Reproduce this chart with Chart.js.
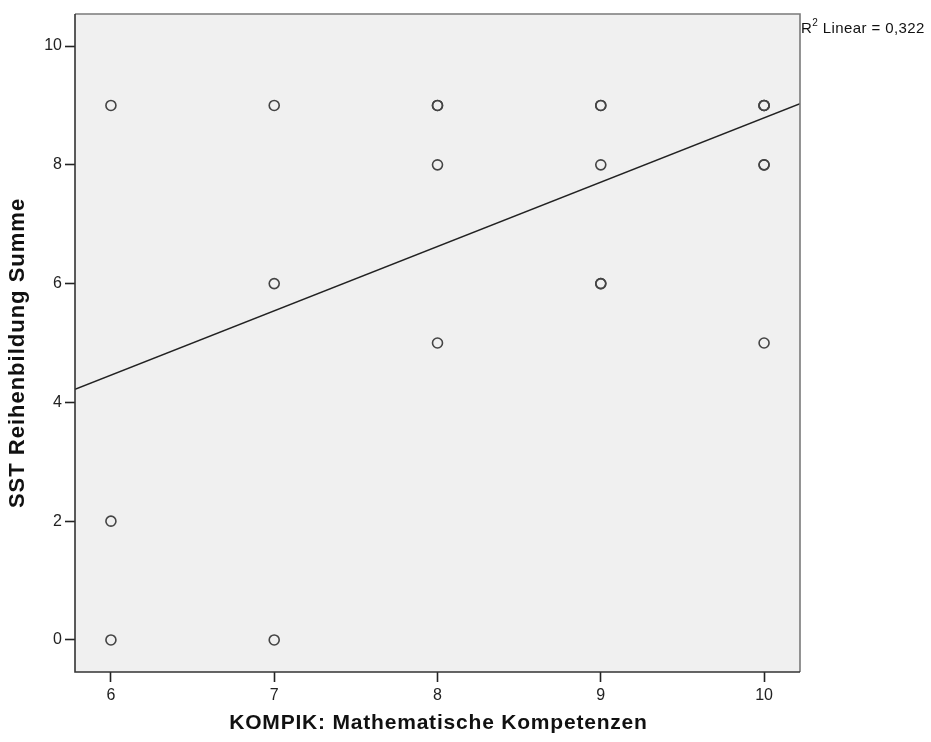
<!DOCTYPE html>
<html>
<head>
<meta charset="utf-8">
<script src="https://cdn.jsdelivr.net/npm/chart.js@4"></script>
<style>
    html, body { margin: 0; padding: 0; background: #fff; }
    #wrap { width: 931px; height: 742px; }
</style>
</head>
<body>
<div id="wrap"><canvas id="scatter" width="931" height="742"></canvas></div>
<script>
/* ================= DATA ================= */
// repeated cases are kept twice, SPSS draws them as darker rings
const xVals = [6, 6, 6, 7, 7, 7, 8, 8, 8, 8, 9, 9, 9, 9, 9, 10, 10, 10, 10, 10, 10];
const yVals = [9, 2, 0, 9, 6, 0, 9, 9, 8, 5, 9, 9, 8, 6, 6, 9, 9, 9, 8, 8, 5];

const xTicks = [6, 7, 8, 9, 10];
const yTicks = [0, 2, 4, 6, 8, 10];

// fit line read at both ends of the x range
const fitX = [5.78, 10.22];
const fitY = [4.22, 9.03];
const r2Text = "Linear = 0,322";

const xTitle = "KOMPIK: Mathematische Kompetenzen";
const yTitle = "SST Reihenbildung Summe";

const FONT = "'Liberation Sans', Arial, sans-serif";

/* ================= PLUGINS ================= */
const frame = {
    id: "frame",
    beforeDraw(chart) {
        const { ctx, chartArea: a } = chart;
        ctx.save();
        ctx.fillStyle = "#f0f0f0";
        ctx.fillRect(a.left, a.top, a.right - a.left, a.bottom - a.top);
        ctx.restore();
    },
    afterDraw(chart) {
        const { ctx, chartArea: a } = chart;
        ctx.save();
        ctx.lineWidth = 1.6;
        ctx.strokeStyle = "#7a7a7a";
        ctx.beginPath();
        ctx.moveTo(a.left, a.top);
        ctx.lineTo(a.right, a.top);
        ctx.lineTo(a.right, a.bottom);
        ctx.stroke();
        ctx.strokeStyle = "#333";
        ctx.beginPath();
        ctx.moveTo(a.left, a.top);
        ctx.lineTo(a.left, a.bottom);
        ctx.lineTo(a.right, a.bottom);
        ctx.stroke();

        // axis titles
        ctx.fillStyle = "#111";
        ctx.textAlign = "center";
        ctx.textBaseline = "middle";
        ctx.font = "bold 21px " + FONT;
        ctx.letterSpacing = "0.8px";
        ctx.fillText(xTitle, (a.left + a.right) / 2 + 1, 723);
        ctx.save();
        ctx.translate(18, 353);
        ctx.rotate(-Math.PI / 2);
        ctx.font = "bold 22px " + FONT;
        ctx.letterSpacing = "1px";
        ctx.fillText(yTitle, 0, 0);
        ctx.restore();

        // R² label outside the top right corner
        ctx.letterSpacing = "0.4px";
        ctx.textAlign = "left";
        ctx.textBaseline = "alphabetic";
        ctx.font = "15px " + FONT;
        const x0 = a.right + 1, base = 33;
        ctx.fillText("R", x0, base);
        const wR = ctx.measureText("R").width;
        ctx.font = "10px " + FONT;
        ctx.fillText("2", x0 + wR, base - 7);
        const w2 = ctx.measureText("2").width;
        ctx.font = "15px " + FONT;
        ctx.fillText(" " + r2Text, x0 + wR + w2, base);
        ctx.restore();
    }
};

/* ================= CHART ================= */
const tickFont = { family: FONT, size: 16 };

new Chart(document.getElementById("scatter"), {
    type: "scatter",
    data: {
        datasets: [
            {
                label: "cases",
                data: xVals.map((x, i) => ({ x: x, y: yVals[i] })),
                pointRadius: 5,
                pointBorderWidth: 1.6,
                borderColor: "#444",
                backgroundColor: "rgba(0,0,0,0)",
                order: 2
            },
            {
                label: "fit",
                type: "line",
                data: fitX.map((x, i) => ({ x: x, y: fitY[i] })),
                borderColor: "#222",
                borderWidth: 1.4,
                pointRadius: 0,
                fill: false,
                order: 1
            }
        ]
    },
    options: {
        responsive: false,
        animation: false,
        layout: { padding: { left: 0, right: 131, top: 14, bottom: 0 } },
        plugins: {
            legend: { display: false },
            tooltip: { enabled: false }
        },
        scales: {
            x: {
                type: "linear",
                min: 5.78,
                max: 10.22,
                afterBuildTicks: s => { s.ticks = xTicks.map(v => ({ value: v })); },
                afterFit: s => { s.height = 70; },
                grid: { drawOnChartArea: false, tickLength: 10, tickColor: "#222", tickWidth: 1.6 },
                border: { display: false },
                ticks: { color: "#222", font: tickFont, padding: 4 },
                title: { display: false }
            },
            y: {
                type: "linear",
                min: -0.54,
                max: 10.54,
                afterBuildTicks: s => { s.ticks = yTicks.map(v => ({ value: v })); },
                afterFit: s => { s.width = 75; },
                grid: { drawOnChartArea: false, tickLength: 10, tickColor: "#222", tickWidth: 1.6 },
                border: { display: false },
                ticks: { color: "#222", font: tickFont, padding: 3 },
                title: { display: false }
            }
        }
    },
    plugins: [frame]
});
</script>
</body>
</html>
